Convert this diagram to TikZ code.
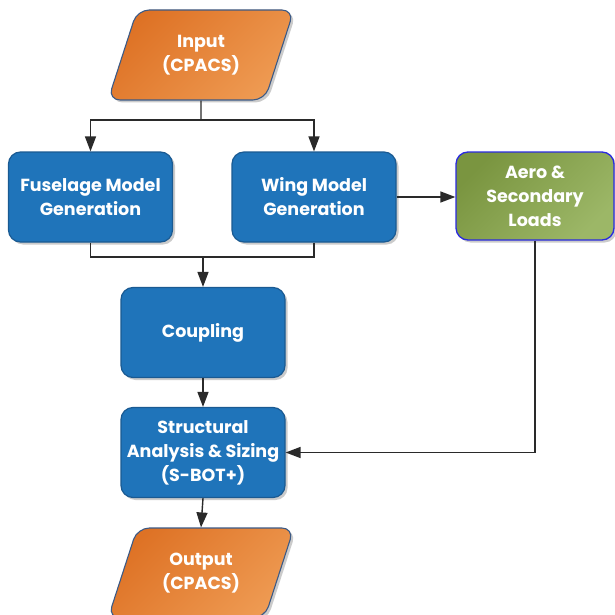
\documentclass[tikz,border=0pt]{standalone}
\usepackage{fontspec}
\setmainfont{Poppins}
\usetikzlibrary{shapes.geometric,arrows.meta,shadows}
\definecolor{bluefill}{HTML}{1F74BA}
\definecolor{blueedge}{HTML}{1A5A92}
\definecolor{orA}{HTML}{DE7225}
\definecolor{orB}{HTML}{EE9A52}
\definecolor{oredge}{HTML}{3C5A86}
\definecolor{grA}{HTML}{7A9540}
\definecolor{grB}{HTML}{9CB767}
\definecolor{gredge}{HTML}{2A2AE0}
\definecolor{linec}{HTML}{2A2A2A}
\tikzset{
  lbl/.style={text=white, align=center, font=\bfseries\fontsize{17.5}{24}\selectfont},
  shad/.style={drop shadow={shadow xshift=2.5pt, shadow yshift=-2.5pt, fill=black!45, opacity=0.45}},
  bluebox/.style={lbl, shad, rectangle, rounded corners=12pt, draw=blueedge, line width=1.2pt,
    fill=bluefill, minimum width=164pt, minimum height=90pt, inner sep=0pt},
  greenbox/.style={lbl, shad, rectangle, rounded corners=12pt, draw=gredge, line width=1.3pt,
    left color=grA, right color=grB, shading angle=45, minimum width=158pt, minimum height=88pt, inner sep=0pt},
  iobox/.style={lbl, shad, trapezium, trapezium left angle=66, trapezium right angle=114,
    trapezium stretches=true, rounded corners=12pt, draw=oredge, line width=1.1pt,
    left color=orA, right color=orB, shading angle=45, minimum width=186pt, minimum height=90pt, inner sep=0pt},
  conn/.style={draw=linec, line width=1.4pt},
  arr/.style={conn, -{Triangle[length=15pt,width=11pt]}}
}
\begin{document}
\begin{tikzpicture}[x=1pt,y=-1pt]
\useasboundingbox[fill=white] (0,0) rectangle (615,615);

\node[iobox] (in) at (201,55) {Input\\(CPACS)};
\node[bluebox] (fus) at (90.5,197) {Fuselage Model\\Generation};
\node[bluebox] (wing) at (314,197) {Wing Model\\Generation};
\node[greenbox] (aero) at (535,196) {Aero \&\\Secondary\\Loads};
\node[bluebox] (coup) at (203,332.5) {Coupling};
\node[bluebox] (sas) at (203,452.5) {Structural\\Analysis \& Sizing\\(S-BOT+)};
\node[iobox] (out) at (201,573) {Output\\(CPACS)};

\coordinate (split) at (201,120);
\coordinate (join) at (203,257);

\draw[conn] (in.south) -- (split);
\draw[arr] (split) -| (fus.north);
\draw[arr] (split) -| (wing.north);
\draw[conn] (fus.south) |- (join);
\draw[conn] (wing.south) |- (join);
\draw[arr] (join) -- (coup.north);
\draw[arr] (wing.east) -- (aero.west |- wing.east);
\draw[arr] (aero.south) |- (sas.east);
\draw[arr] (coup.south) -- (sas.north);
\draw[arr] (sas.south) -- (out.north);
\end{tikzpicture}
\end{document}
